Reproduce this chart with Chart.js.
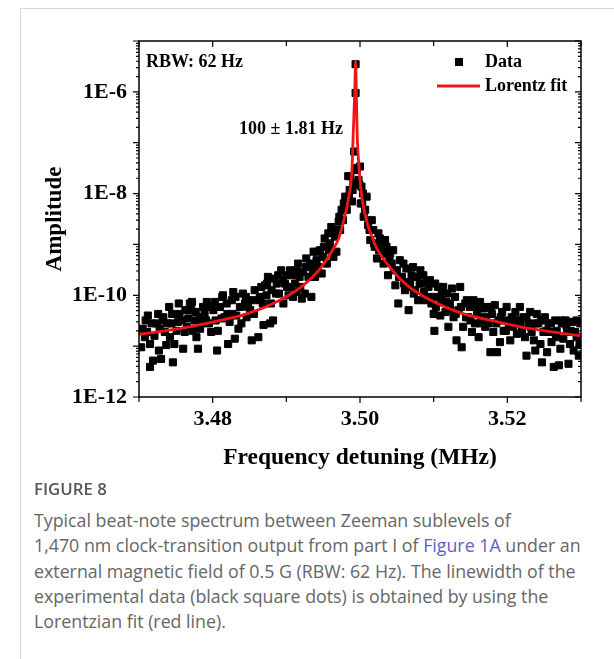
<!DOCTYPE html>
<html>
<head>
<meta charset="utf-8">
<script src="https://cdn.jsdelivr.net/npm/chart.js@4.4.0/dist/chart.umd.min.js"></script>
<style>
  body { margin: 0; background: #fff; }
  #wrap { position: relative; width: 614px; height: 659px; overflow: hidden; }
  #card { position: absolute; left: 20px; top: 8px; right: -2px; bottom: -2px;
          border-top: 1px solid #d9d9d9; border-left: 1px solid #d9d9d9; }
  #chart { position: absolute; left: 0; top: 0; }
  .cap { position: absolute; left: 34px; font-family: "Open Sans", "Noto Sans", sans-serif; color: #666; white-space: nowrap; }
  #figno { top: 477px; font-size: 16.8px; font-weight: 600; color: #555; }
  #captext { top: 508px; font-size: 17.8px; line-height: 25.3px; font-weight: 400; }
  #captext a { color: #5a5fc2; text-decoration: none; }
</style>
</head>
<body>
<div id="wrap">
  <div id="card"></div>
  <canvas id="chart" width="614" height="480"></canvas>
  <div class="cap" id="figno">FIGURE 8</div>
  <div class="cap" id="captext">Typical beat-note spectrum between Zeeman sublevels of<br>1,470 nm clock-transition output from part I of <a>Figure 1A</a> under an<br>external magnetic field of 0.5 G (RBW: 62 Hz). The linewidth of the<br>experimental data (black square dots) is obtained by using the<br>Lorentzian fit (red line).</div>
</div>
<script>
// measured spectrum (MHz, amplitude)
const dataFreq = [
  3.4703, 3.4705, 3.4709, 3.4712, 3.4715, 3.4715, 3.4719, 3.4721, 3.4724, 3.4726,
  3.4727, 3.4730, 3.4733, 3.4735, 3.4737, 3.4741, 3.4742, 3.4744, 3.4746, 3.4748,
  3.4751, 3.4755, 3.4758, 3.4760, 3.4762, 3.4765, 3.4769, 3.4771, 3.4773, 3.4776,
  3.4778, 3.4780, 3.4782, 3.4785, 3.4787, 3.4789, 3.4792, 3.4795, 3.4798, 3.4801,
  3.4804, 3.4806, 3.4807, 3.4810, 3.4814, 3.4816, 3.4819, 3.4821, 3.4823, 3.4826,
  3.4828, 3.4830, 3.4832, 3.4835, 3.4837, 3.4841, 3.4844, 3.4846, 3.4848, 3.4850,
  3.4853, 3.4856, 3.4859, 3.4862, 3.4864, 3.4866, 3.4869, 3.4871, 3.4873, 3.4875,
  3.4878, 3.4880, 3.4882, 3.4883, 3.4887, 3.4890, 3.4893, 3.4896, 3.4898, 3.4900,
  3.4903, 3.4905, 3.4907, 3.4909, 3.4912, 3.4914, 3.4916, 3.4918, 3.4921, 3.4923,
  3.4925, 3.4927, 3.4930, 3.4932, 3.4934, 3.4937, 3.4939, 3.4941, 3.4943, 3.4946,
  3.4948, 3.4950, 3.4952, 3.4955, 3.4957, 3.4959, 3.4961, 3.4964, 3.4966, 3.4968,
  3.4971, 3.4973, 3.4975, 3.4977, 3.4980, 3.4981, 3.4982, 3.4984, 3.4986, 3.4987,
  3.4989, 3.4990, 3.4991, 3.4992, 3.4994, 3.4994, 3.4995, 3.4996, 3.4998, 3.4999,
  3.5000, 3.5001, 3.5002, 3.5003, 3.5004, 3.5007, 3.5009, 3.5011, 3.5014, 3.5016,
  3.5018, 3.5020, 3.5023, 3.5025, 3.5027, 3.5029, 3.5032, 3.5034, 3.5036, 3.5038,
  3.5041, 3.5043, 3.5045, 3.5048, 3.5050, 3.5052, 3.5054, 3.5057, 3.5059, 3.5061,
  3.5063, 3.5066, 3.5068, 3.5070, 3.5072, 3.5075, 3.5077, 3.5079, 3.5082, 3.5084,
  3.5086, 3.5088, 3.5091, 3.5093, 3.5095, 3.5097, 3.5100, 3.5101, 3.5102, 3.5104,
  3.5106, 3.5109, 3.5111, 3.5113, 3.5116, 3.5118, 3.5120, 3.5122, 3.5125, 3.5127,
  3.5129, 3.5131, 3.5134, 3.5136, 3.5138, 3.5140, 3.5143, 3.5145, 3.5147, 3.5149,
  3.5152, 3.5154, 3.5156, 3.5159, 3.5161, 3.5163, 3.5165, 3.5168, 3.5170, 3.5172,
  3.5174, 3.5177, 3.5179, 3.5181, 3.5183, 3.5186, 3.5188, 3.5190, 3.5193, 3.5195,
  3.5197, 3.5199, 3.5202, 3.5204, 3.5206, 3.5208, 3.5211, 3.5213, 3.5215, 3.5217,
  3.5220, 3.5222, 3.5224, 3.5226, 3.5229, 3.5231, 3.5233, 3.5236, 3.5238, 3.5240,
  3.5242, 3.5245, 3.5247, 3.5249, 3.5251, 3.5254, 3.5256, 3.5258, 3.5260, 3.5263,
  3.5265, 3.5267, 3.5270, 3.5272, 3.5274, 3.5276, 3.5279, 3.5281, 3.5283, 3.5285,
  3.5288, 3.5290, 3.5292, 3.5294, 3.5297, 3.5299,
  // denser parts of the band
  3.4708, 3.4711, 3.4717, 3.4728, 3.4732, 3.4738, 3.4745, 3.4753, 3.4754, 3.4763,
  3.4767, 3.4772, 3.4777, 3.4783, 3.4791, 3.4797, 3.4803, 3.4812, 3.4813, 3.4820,
  3.4827, 3.4831, 3.4839, 3.4845, 3.4851, 3.4857, 3.4868, 3.4874, 3.4879, 3.4886,
  3.4889, 3.4895, 3.4901, 3.4908, 3.4913, 3.4919, 3.4927, 3.4936, 3.4942, 3.4951,
  3.4958, 3.4965, 3.4972, 3.4978, 3.4985,
  3.5005, 3.5013, 3.5019, 3.5026, 3.5033, 3.5040, 3.5046, 3.5053, 3.5060, 3.5067,
  3.5073, 3.5081, 3.5087, 3.5094, 3.5103, 3.5110, 3.5117, 3.5123, 3.5130, 3.5137,
  3.5144, 3.5150, 3.5158, 3.5164, 3.5171, 3.5178, 3.5185, 3.5191, 3.5198, 3.5205,
  3.5212, 3.5218, 3.5226, 3.5232, 3.5239, 3.5246, 3.5253, 3.5259, 3.5266, 3.5273,
  3.5280, 3.5286, 3.5294, 3.5298
];
const dataAmp = [
  9.5e-12, 2.2e-11, 3.2e-11, 4.0e-11, 1.1e-11, 3.9e-12, 5.2e-12, 1.6e-11, 2.8e-11, 4.3e-11,
  8.2e-12, 5.6e-12, 3.7e-11, 1.9e-11, 1.05e-11, 5.9e-11, 1.5e-11, 2.8e-11, 4.8e-12, 1.1e-11,
  2.0e-11, 4.3e-11, 3.2e-11, 8.9e-12, 1.9e-11, 2.4e-11, 6.9e-11, 5.1e-11, 2.0e-11, 3.2e-11,
  1.5e-11, 8.9e-12, 3.7e-11, 2.8e-11, 5.9e-11, 4.3e-11, 7.4e-11, 2.8e-11, 1.9e-11, 5.1e-11,
  3.2e-11, 8.2e-12, 2.0e-11, 5.9e-11, 1.0e-10, 3.7e-11, 6.9e-11, 1.1e-11, 3.0e-11, 8.0e-11,
  1.16e-10, 1.4e-11, 4.0e-11, 2.2e-11, 5.9e-11, 1.08e-10, 6.9e-11, 3.7e-11, 5.9e-11, 8.0e-11,
  1.3e-11, 4.3e-11, 8.0e-11, 1.5e-11, 9.3e-11, 1.46e-10, 2.6e-11, 1.57e-10, 1.0e-10, 2.3e-10,
  2.8e-11, 1.26e-10, 3.2e-11, 2.13e-10, 1.7e-10, 1.08e-10, 3.1e-10, 6.9e-11, 1.7e-10, 2.48e-10,
  1.0e-10, 3.1e-10, 1.46e-10, 9.3e-11, 1.7e-10, 1.16e-10, 4.2e-10, 2.3e-10, 8.6e-11, 2.9e-10,
  1.08e-10, 5.3e-10, 2.3e-10, 4.2e-10, 9.3e-11, 7.2e-10, 2.3e-10, 4.9e-10, 3.6e-10, 7.7e-10,
  2.68e-10, 5.7e-10, 1.31e-9, 4.2e-10, 1.65e-9, 1.05e-9, 2.2e-9, 5.7e-10, 1.42e-9, 7.2e-10,
  2.8e-9, 1.92e-9, 4.8e-9, 3.0e-9, 8.7e-9, 6.4e-9, 4.8e-9, 2.2e-8, 1.18e-8, 2.2e-8,
  7.0e-9, 1.18e-8, 1.6e-8, 6.7e-8, 9.5e-7, 3.5e-6, 2.9e-8, 3.2e-8, 1.86e-8, 1.5e-8,
  3.4e-8, 6.4e-9, 1.37e-8, 6.4e-9, 1.0e-8, 4.8e-9, 8.7e-9, 2.4e-9, 1.22e-9, 3.0e-9,
  1.92e-9, 9.0e-10, 5.3e-10, 1.65e-9, 1.31e-9, 1.05e-9, 4.2e-10, 1.22e-9, 9.0e-10, 2.48e-10,
  6.6e-10, 4.2e-10, 7.7e-10, 1.57e-10, 3.1e-10, 6.9e-11, 4.9e-10, 2.3e-10, 4.2e-10, 1.26e-10,
  3.36e-10, 5.1e-11, 1.83e-10, 2.48e-10, 3.6e-10, 1.26e-10, 2.3e-10, 8.0e-11, 3.1e-10, 1.7e-10,
  2.48e-10, 8.0e-11, 1.83e-10, 1.46e-10, 1.98e-10, 6.9e-11, 4.3e-11, 2.0e-11, 1.7e-10, 9.3e-11,
  1.46e-10, 4.0e-11, 1.08e-10, 1.46e-10, 4.7e-11, 1.08e-10, 2.4e-11, 6.9e-11, 1.36e-10, 3.7e-11,
  9.3e-11, 1.3e-11, 5.1e-11, 1.46e-10, 9.5e-12, 2.4e-11, 6.9e-11, 8.0e-11, 3.7e-11, 5.9e-11,
  1.9e-11, 8.0e-11, 2.8e-11, 4.7e-11, 1.5e-11, 7.4e-11, 3.7e-11, 5.5e-11, 2.4e-11, 5.9e-11,
  2.8e-11, 7.6e-12, 4.3e-11, 1.9e-11, 6.4e-11, 7.6e-12, 3.2e-11, 1.2e-11, 4.7e-11, 2.0e-11,
  3.2e-11, 5.9e-11, 2.8e-11, 1.3e-11, 3.7e-11, 2.4e-11, 4.7e-11, 1.75e-11, 3.2e-11, 5.9e-11,
  2.0e-11, 3.7e-11, 1.5e-11, 6.5e-12, 2.8e-11, 4.7e-11, 1.9e-11, 1.3e-11, 8.2e-12, 4.3e-11,
  2.8e-11, 1.1e-11, 4.8e-12, 1.9e-11, 3.7e-11, 7.6e-12, 2.8e-11, 1.9e-11, 1.2e-11, 3.9e-12,
  3.2e-11, 2.0e-11, 4.2e-12, 8.9e-12, 2.8e-11, 1.4e-11, 3.2e-11, 1.9e-11, 4.5e-12, 1.1e-11,
  3.0e-11, 8.2e-12, 1.9e-11, 1.5e-11, 6.5e-12, 2.8e-11,
  // denser parts of the band
  1.5e-11, 1.9e-11, 2.8e-11, 2.2e-11, 3.2e-11, 2.8e-11, 4.3e-11, 3.0e-11, 6.9e-11, 5.1e-11,
  3.5e-11, 7.4e-11, 4.7e-11, 2.2e-11, 3.2e-11, 5.9e-11, 7.4e-11, 3.5e-11, 9.3e-11, 4.3e-11,
  4.3e-11, 9.3e-11, 2.8e-11, 9.3e-11, 5.1e-11, 1.26e-10, 6.9e-11, 1.7e-10, 6.9e-11, 1.08e-10,
  2.48e-10, 1.98e-10, 1.46e-10, 2.48e-10, 3.1e-10, 1.46e-10, 3.6e-10, 3.1e-10, 7.2e-10, 9.0e-10,
  7.7e-10, 1.92e-9, 3.5e-9, 6.4e-9, 8.7e-9,
  3.5e-9, 1.92e-9, 1.05e-9, 7.7e-10, 6.6e-10, 4.9e-10, 3.1e-10, 2.3e-10, 1.7e-10, 1.46e-10,
  1.08e-10, 1.7e-10, 1.16e-10, 9.3e-11, 5.9e-11, 8.0e-11, 7.4e-11, 5.1e-11, 4.3e-11, 5.9e-11,
  3.7e-11, 3.2e-11, 5.9e-11, 2.8e-11, 3.7e-11, 5.9e-11, 2.8e-11, 3.7e-11, 2.0e-11, 2.8e-11,
  3.2e-11, 2.8e-11, 3.7e-11, 2.4e-11, 2.8e-11, 3.2e-11, 2.0e-11, 2.8e-11, 1.5e-11, 3.2e-11,
  2.6e-11, 2.0e-11, 3.2e-11, 1.1e-11
];

// Lorentz fit curve
const fitFreq = [3.4700, 3.4755, 3.4801, 3.4846, 3.4891, 3.4923, 3.4946, 3.4964, 3.4971, 3.4977,
  3.4984, 3.4989, 3.4991, 3.4993, 3.4994, 3.4995, 3.4996, 3.4999, 3.5003, 3.5010,
  3.5017, 3.5023, 3.5042, 3.5064, 3.5096, 3.5141, 3.5187, 3.5232, 3.5300];
const fitAmp = [1.7e-11, 2.2e-11, 3.0e-11, 4.3e-11, 8.0e-11, 1.57e-10, 3.36e-10, 8.3e-10, 1.31e-9, 2.6e-9,
  7.5e-9, 2.9e-8, 1.8e-7, 1.1e-6, 4.0e-6, 1.1e-6, 1.8e-7, 2.9e-8, 7.5e-9, 2.6e-9,
  1.31e-9, 8.3e-10, 3.36e-10, 1.57e-10, 8.0e-11, 4.3e-11, 3.0e-11, 2.2e-11, 1.6e-11];

const xTicks = [3.47, 3.48, 3.49, 3.50, 3.51, 3.52, 3.53];
const xLabels = ['3.48', '3.50', '3.52'];
const yDecades = [1e-12, 1e-11, 1e-10, 1e-9, 1e-8, 1e-7, 1e-6, 1e-5];
const yLabels = ['1E-12', '1E-10', '1E-8', '1E-6'];

const serif = "'Liberation Serif', 'Times New Roman', serif";

function yLabel(v) {
  const e = Math.round(Math.log10(v));
  const s = '1E' + e;
  return yLabels.includes(s) ? s : '';
}

const framePlugin = {
  id: 'frame',
  afterDraw(chart) {
    const { ctx, chartArea: a, scales: { x, y } } = chart;
    ctx.save();
    ctx.strokeStyle = '#000';
    ctx.lineWidth = 1.5;
    ctx.strokeRect(a.left, a.top, a.right - a.left, a.bottom - a.top);
    ctx.lineWidth = 1.2;
    ctx.beginPath();
    xTicks.forEach(v => {
      const px = x.getPixelForValue(v);
      const len = xLabels.includes(v.toFixed(2)) ? 6 : 5;
      ctx.moveTo(px, a.bottom); ctx.lineTo(px, a.bottom + len);
      ctx.moveTo(px, a.top); ctx.lineTo(px, a.top + len);
    });
    yDecades.forEach((d, i) => {
      const py = y.getPixelForValue(d);
      ctx.moveTo(a.left, py); ctx.lineTo(a.left - 6, py);
      ctx.moveTo(a.right, py); ctx.lineTo(a.right - 6, py);
      if (i < yDecades.length - 1) {
        for (let m = 2; m <= 9; m++) {
          const pm = y.getPixelForValue(d * m);
          ctx.moveTo(a.left, pm); ctx.lineTo(a.left - 3, pm);
          ctx.moveTo(a.right, pm); ctx.lineTo(a.right - 3, pm);
        }
      }
    });
    ctx.stroke();

    // annotations and legend
    ctx.fillStyle = '#000';
    ctx.font = 'bold 18px ' + serif;
    ctx.textBaseline = 'middle';
    ctx.textAlign = 'left';
    ctx.fillText('RBW: 62 Hz', a.left + 7, a.top + 21);
    ctx.fillText('100 \u00b1 1.81 Hz', a.left + 100, a.top + 88);
    ctx.fillText('Data', a.left + 346, a.top + 21);
    ctx.fillText('Lorentz fit', a.left + 346, a.top + 45);
    ctx.fillRect(a.left + 316, a.top + 17, 8, 8);
    ctx.strokeStyle = '#f01414';
    ctx.lineWidth = 2.8;
    ctx.beginPath();
    ctx.moveTo(a.left + 298, a.top + 45);
    ctx.lineTo(a.left + 341, a.top + 45);
    ctx.stroke();
    ctx.restore();
  }
};

new Chart(document.getElementById('chart'), {
  type: 'line',
  data: {
    datasets: [
      {
        label: 'Lorentz fit',
        data: fitFreq.map((f, i) => ({ x: f, y: fitAmp[i] })),
        borderColor: '#f01414',
        borderWidth: 2.8,
        pointRadius: 0,
        cubicInterpolationMode: 'monotone',
        fill: false
      },
      {
        label: 'Data',
        data: dataFreq.map((f, i) => ({ x: f, y: dataAmp[i] })),
        showLine: false,
        pointStyle: 'rect',
        pointRadius: 5,
        pointBorderWidth: 1,
        pointBackgroundColor: '#000',
        pointBorderColor: '#000'
      }
    ]
  },
  options: {
    responsive: false,
    animation: false,
    layout: { padding: { left: 0, right: 33, top: 41, bottom: 0 } },
    plugins: { legend: { display: false }, tooltip: { enabled: false } },
    scales: {
      x: {
        type: 'linear',
        min: 3.47,
        max: 3.53,
        afterFit: s => { s.height = 83; },
        afterBuildTicks: s => { s.ticks = xTicks.map(v => ({ value: v })); },
        grid: { display: false, drawTicks: false },
        border: { display: false },
        ticks: {
          padding: 9,
          color: '#000',
          font: { family: serif, size: 22, weight: 'bold' },
          maxRotation: 0,
          autoSkip: false,
          callback: v => xLabels.includes(v.toFixed(2)) ? v.toFixed(2) : ''
        },
        title: {
          display: true,
          text: 'Frequency detuning (MHz)',
          color: '#000',
          font: { family: serif, size: 23.5, weight: 'bold' },
          padding: { top: 0, bottom: 8 }
        }
      },
      y: {
        type: 'logarithmic',
        min: 1e-12,
        max: 1e-5,
        afterFit: s => { s.width = 139; },
        afterBuildTicks: s => { s.ticks = yDecades.map(v => ({ value: v })); },
        grid: { display: false, drawTicks: false },
        border: { display: false },
        ticks: {
          padding: 12,
          color: '#000',
          font: { family: serif, size: 22, weight: 'bold' },
          autoSkip: false,
          callback: v => yLabel(v)
        },
        title: {
          display: true,
          text: 'Amplitude',
          color: '#000',
          font: { family: serif, size: 23, weight: 'bold' },
          padding: { top: 41, bottom: 0 }
        }
      }
    }
  },
  plugins: [framePlugin]
});
</script>
</body>
</html>
